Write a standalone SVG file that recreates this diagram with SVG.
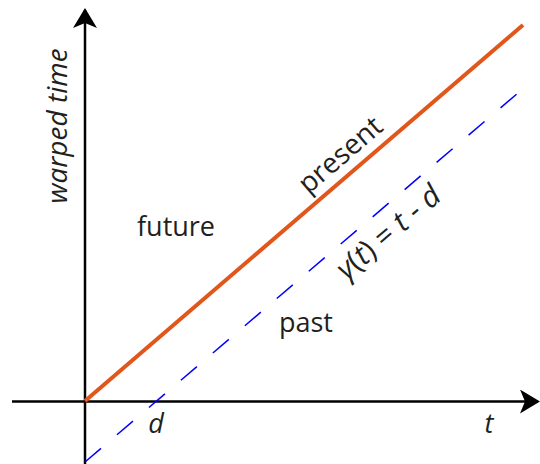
<svg xmlns="http://www.w3.org/2000/svg" width="540" height="464" viewBox="0 0 540 464">
<style>
.ax{stroke:#000;stroke-width:2.5;fill:none}
.lbl{font-family:"Open Sans","Noto Sans",sans-serif;font-size:27px;fill:#231f20}
.it{font-style:italic}
</style>
<defs>
<marker id="ah" viewBox="0 0 20 24" refX="18" refY="12" markerWidth="20" markerHeight="24" markerUnits="userSpaceOnUse" orient="auto">
<path d="M0,0 L20,12 L0,24 L5,12 Z" fill="#000"/>
</marker>
</defs>
<g id="connectors">
<line class="ax" x1="85" y1="464" x2="85" y2="10" marker-end="url(#ah)"/>
<line class="ax" x1="12" y1="401.5" x2="538" y2="401.5" marker-end="url(#ah)"/>
<line id="present-line" x1="85" y1="401" x2="523" y2="25" stroke="#e0561b" stroke-width="4"/>
<line id="past-line" x1="85" y1="462" x2="525" y2="87" stroke="#0000ff" stroke-width="1.5" stroke-dasharray="21 21"/>
</g>
<g id="y-label"><text class="lbl it" transform="translate(67,126) rotate(-90)" text-anchor="middle" style="font-size:28px">warped time</text></g>
<g id="future"><text class="lbl" x="176" y="236" text-anchor="middle">future</text></g>
<g id="past"><text class="lbl" x="306" y="332" text-anchor="middle">past</text></g>
<g id="present"><text class="lbl" transform="translate(85,401) rotate(-40.65)" x="354" y="-11" text-anchor="middle" style="font-size:28px">present</text></g>
<g id="gamma"><text class="lbl" transform="translate(85,462) rotate(-40.44)" x="380" y="32" text-anchor="middle" style="font-size:30px"><tspan class="it">γ</tspan>(<tspan class="it">t</tspan>) = <tspan class="it">t</tspan> - <tspan class="it">d</tspan></text></g>
<g id="d-label"><text class="lbl it" x="156" y="433" text-anchor="middle">d</text></g>
<g id="t-label"><text class="lbl it" x="489" y="433" text-anchor="middle">t</text></g>
</svg>
